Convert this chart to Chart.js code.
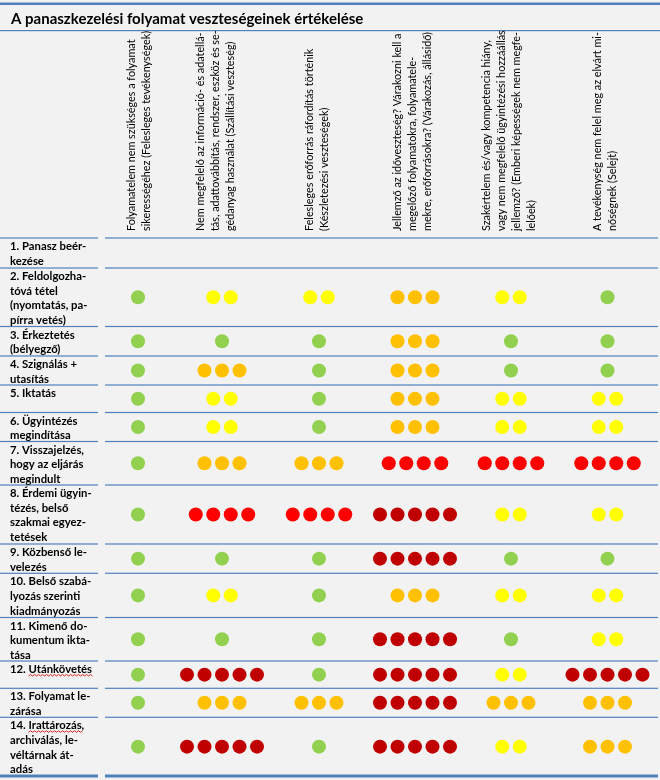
<!DOCTYPE html>
<html>
<head>
<meta charset="utf-8">
<script src="https://cdn.jsdelivr.net/npm/chart.js@4.4.1/dist/chart.umd.min.js"></script>
<style>
  body { margin: 0; background: #F2F2F2; }
  canvas { display: block; }
</style>
</head>
<body>
<canvas id="lossChart" width="660" height="780"></canvas>
<script>
// Table of process steps vs. loss types, rated 1..5 (number of dots)

var title = 'A panaszkezelési folyamat veszteségeinek értékelése';

var rowLabels = [
    ['1. Panasz beér-', 'kezése'],
    ['2. Feldolgozha-', 'tóvá tétel', '(nyomtatás, pa-', 'pírra vetés)'],
    ['3. Érkeztetés', '(bélyegző)'],
    ['4. Szignálás +', 'utasítás'],
    ['5. Iktatás'],
    ['6. Ügyintézés', 'megindítása'],
    ['7. Visszajelzés,', 'hogy az eljárás', 'megindult'],
    ['8. Érdemi ügyin-', 'tézés, belső', 'szakmai egyez-', 'tetések'],
    ['9. Közbenső le-', 'velezés'],
    ['10. Belső szabá-', 'lyozás szerinti', 'kiadmányozás'],
    ['11. Kimenő do-', 'kumentum ikta-', 'tása'],
    ['12. Utánkövetés'],
    ['13. Folyamat le-', 'zárása'],
    ['14. Irattározás,', 'archiválás, le-', 'véltárnak át-', 'adás']
];

var colLabels = [
    ['Folyamatelem nem szükséges a folyamat', 'sikerességéhez (Felesleges tevékenységek)'],
    ['Nem megfelelő az információ- és adatellá-', 'tás, adattovábbítás, rendszer, eszköz és se-', 'gédanyag használat (Szállítási veszteség)'],
    ['Felesleges erőforrás ráfordítás történik', '(Készletezési veszteségek)'],
    ['Jellemző az időveszteség? Várakozni kell a', 'megelőző folyamatokra, folyamatele-', 'mekre, erőforrásokra? (Várakozás, állásidő)'],
    ['Szakértelem és/vagy kompetencia hiány,', 'vagy nem megfelelő ügyintézési hozzáállás', 'jellemző? (Emberi képességek nem megfe-', 'lelőek)'],
    ['A tevékenység nem felel meg az elvárt mi-', 'nőségnek (Selejt)']
];

// ratings per loss type, one value per process step (null = not rated)
var feleslegesTevekenyseg = [null, 1, 1, 1, 1, 1, 1, 1, 1, 1, 1, 1, 1, 1];
var szallitasiVeszteseg   = [null, 2, 1, 3, 2, 2, 3, 4, 1, 2, 1, 5, 3, 5];
var keszletezesiVeszteseg = [null, 2, 1, 1, 1, 1, 3, 4, 1, 1, 1, 1, 3, 1];
var varakozas             = [null, 3, 3, 3, 3, 3, 4, 5, 5, 3, 5, 5, 5, 5];
var emberiKepessegek      = [null, 2, 1, 1, 2, 2, 4, 2, 1, 2, 1, 2, 3, 2];
var selejt                = [null, 1, 1, 1, 2, 2, 4, 2, 1, 2, 2, 5, 3, 3];

var levelNames = ['1', '2', '3', '4', '5'];
var levelColors = ['#92D050', '#FFFF00', '#FFC000', '#FF0000', '#C00000'];

// layout (pixels)
var rowEdges = [238, 268, 326.5, 356, 385, 412.5, 441.5, 485, 544, 573.3, 617.5, 661, 688.3, 717.3, 776];
var colCenters = [138, 222, 319, 415, 511, 607.5];
var headerCenters = [139, 216, 317, 413, 509, 605.5];
var headerLineGap = 15;
var dotGap = 17.5;
var lineColor = '#4F81BD';
var fontName = 'Lato, "Open Sans", sans-serif';

var columns = [feleslegesTevekenyseg, szallitasiVeszteseg, keszletezesiVeszteseg, varakozas, emberiKepessegek, selejt];

// Build one scatter dataset per rating level
var datasets = levelNames.map(function (name, li) {
    var points = [];
    columns.forEach(function (col, c) {
        col.forEach(function (v, r) {
            if (v !== li + 1) return;
            var yc = (rowEdges[r] + rowEdges[r + 1]) / 2;
            for (var k = 0; k < v; k++) {
                points.push({ x: colCenters[c] + (k - (v - 1) / 2) * dotGap, y: yc });
            }
        });
    });
    return {
        label: name,
        data: points,
        backgroundColor: levelColors[li],
        borderWidth: 0,
        pointRadius: 7,
        pointHoverRadius: 7
    };
});

function squiggle(ctx, x0, x1, y) {
    ctx.save();
    ctx.strokeStyle = '#E02020';
    ctx.lineWidth = 1;
    ctx.beginPath();
    ctx.moveTo(x0, y);
    for (var x = x0, up = true; x <= x1; x += 2, up = !up) {
        ctx.lineTo(x + 2, up ? y - 1.5 : y);
    }
    ctx.stroke();
    ctx.restore();
}

var tablePlugin = {
    id: 'tablePlugin',
    beforeDraw: function (chart) {
        var ctx = chart.ctx;
        var sx = chart.scales.x, sy = chart.scales.y;
        var px = function (v) { return sx.getPixelForValue(v); };
        var py = function (v) { return sy.getPixelForValue(v); };
        ctx.save();
        ctx.fillStyle = '#F2F2F2';
        ctx.fillRect(0, 0, chart.width, chart.height);

        // top bar and title
        ctx.fillStyle = lineColor;
        ctx.fillRect(px(0), py(2.5), px(660) - px(0), 2.5);
        ctx.fillStyle = '#000';
        ctx.font = 'bold 15px ' + fontName;
        ctx.textBaseline = 'alphabetic';
        ctx.fillText(title, px(11), py(24));
        ctx.fillStyle = lineColor;
        ctx.fillRect(px(0), py(30), px(660) - px(0), 1.2);

        // row separators (two segments, as in the table)
        rowEdges.forEach(function (y, i) {
            var h = (i === rowEdges.length - 1) ? 3 : 1.2;
            ctx.fillRect(px(0), py(y) - h / 2, px(98) - px(0), h);
            ctx.fillRect(px(105), py(y) - h / 2, px(658) - px(105), h);
        });

        // row labels
        ctx.fillStyle = '#000';
        ctx.font = 'bold 11.3px ' + fontName;
        rowLabels.forEach(function (lines, r) {
            lines.forEach(function (t, i) {
                var yb = py(rowEdges[r] + 12 + i * 14.6);
                ctx.fillText(t, px(10), yb);
                if (t === '12. Utánkövetés' || t === '14. Irattározás,') {
                    var start = px(10) + ctx.measureText(t.split(' ')[0] + ' ').width;
                    var word = t.split(' ')[1].replace(',', '');
                    squiggle(ctx, start, start + ctx.measureText(word).width, yb + 3);
                }
            });
        });

        // rotated column headers, each block centred on its column
        ctx.font = '10.8px ' + fontName;
        ctx.textBaseline = 'middle';
        colLabels.forEach(function (lines, c) {
            var first = headerCenters[c] - (lines.length - 1) / 2 * headerLineGap;
            lines.forEach(function (t, i) {
                ctx.save();
                ctx.translate(px(first + i * headerLineGap), py(231));
                ctx.rotate(-Math.PI / 2);
                ctx.fillText(t, 0, 0);
                ctx.restore();
            });
        });
        ctx.restore();
    }
};

var lossChart = new Chart(document.getElementById('lossChart'), {
    type: 'scatter',
    data: { datasets: datasets },
    options: {
        responsive: false,
        animation: false,
        layout: { padding: 0, autoPadding: false },
        scales: {
            x: { type: 'linear', min: 0, max: 660, display: false },
            y: { type: 'linear', min: 0, max: 780, reverse: true, display: false }
        },
        plugins: {
            legend: { display: false },
            tooltip: { enabled: false }
        }
    },
    plugins: [tablePlugin]
});
</script>
</body>
</html>
